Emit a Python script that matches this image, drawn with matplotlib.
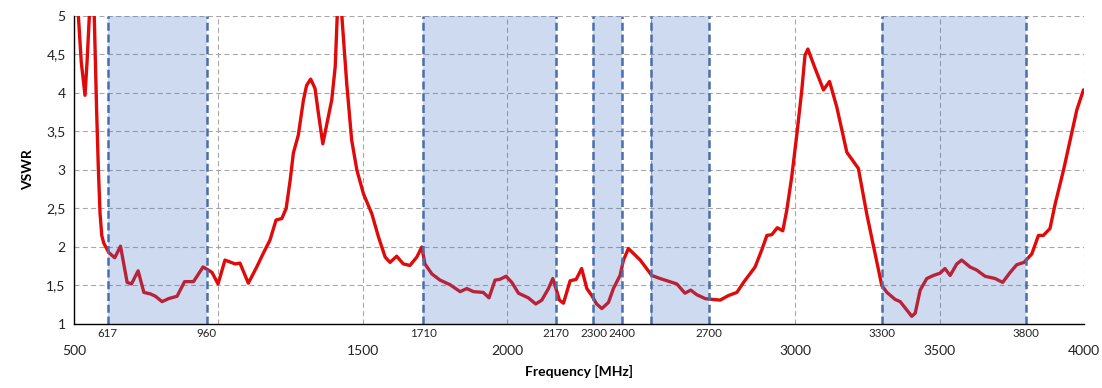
import matplotlib
matplotlib.use("Agg")
import matplotlib.pyplot as plt

# ---- data ----
freq_mhz = [500, 508, 515, 525, 538, 545, 553, 561, 570, 578, 584, 590, 596, 603,
            620, 641, 661, 684, 699, 722, 742, 765, 782, 805, 828, 857, 883, 914,
            947, 961, 978, 999, 1023, 1058, 1075, 1104, 1133, 1156, 1179, 1200,
            1220, 1235, 1249, 1260, 1277, 1295, 1306, 1320, 1335, 1347, 1362,
            1376, 1393, 1405, 1412, 1419, 1428, 1445, 1462, 1480, 1503, 1532,
            1555, 1578, 1595, 1618, 1641, 1664, 1688, 1705, 1716, 1740, 1768,
            1803, 1838, 1861, 1884, 1918, 1938, 1959, 1976, 1997, 2017, 2040,
            2074, 2100, 2121, 2144, 2159, 2170, 2182, 2196, 2219, 2240, 2259,
            2277, 2294, 2311, 2329, 2352, 2369, 2392, 2404, 2421, 2462, 2502,
            2531, 2589, 2617, 2637, 2658, 2687, 2710, 2739, 2768, 2797, 2820,
            2860, 2883, 2901, 2918, 2937, 2956, 2970, 2987, 3005, 3022, 3033,
            3043, 3068, 3097, 3118, 3143, 3178, 3218, 3247, 3299, 3317, 3345,
            3363, 3386, 3403, 3415, 3432, 3455, 3478, 3501, 3518, 3536, 3559,
            3576, 3605, 3628, 3657, 3692, 3718, 3744, 3767, 3792, 3819, 3842,
            3859, 3882, 3900, 3929, 3952, 3975, 3998]
vswr = [7.0, 6.0, 5.0, 4.4, 3.97, 4.4, 5.0, 6.0, 5.0, 3.8, 3.04, 2.44, 2.15, 2.05,
        1.93, 1.86, 2.01, 1.54, 1.52, 1.69, 1.41, 1.39, 1.36, 1.29, 1.33, 1.36,
        1.55, 1.55, 1.74, 1.71, 1.67, 1.52, 1.83, 1.78, 1.79, 1.53, 1.74, 1.92,
        2.09, 2.35, 2.37, 2.50, 2.87, 3.22, 3.45, 3.91, 4.10, 4.18, 4.06, 3.73,
        3.34, 3.60, 3.91, 4.34, 5.0, 5.4, 5.0, 4.12, 3.39, 3.0, 2.69, 2.43,
        2.13, 1.87, 1.80, 1.88, 1.78, 1.76, 1.87, 2.00, 1.78, 1.65, 1.57,
        1.51, 1.42, 1.46, 1.42, 1.41, 1.34, 1.57, 1.58, 1.62, 1.54, 1.40,
        1.34, 1.26, 1.31, 1.46, 1.59, 1.46, 1.31, 1.27, 1.56, 1.58, 1.72,
        1.46, 1.37, 1.26, 1.20, 1.28, 1.46, 1.63, 1.83, 1.98, 1.83, 1.63,
        1.59, 1.52, 1.40, 1.44, 1.38, 1.33, 1.32, 1.31, 1.37, 1.41, 1.54,
        1.74, 1.96, 2.15, 2.16, 2.25, 2.21, 2.48, 2.91, 3.47, 4.04, 4.49,
        4.57, 4.32, 4.04, 4.15, 3.82, 3.23, 3.02, 2.43, 1.50, 1.41, 1.32,
        1.29, 1.18, 1.10, 1.14, 1.44, 1.59, 1.63, 1.66, 1.72, 1.63, 1.78,
        1.83, 1.74, 1.70, 1.62, 1.59, 1.54, 1.67, 1.77, 1.80, 1.91, 2.15,
        2.15, 2.24, 2.56, 3.0, 3.39, 3.78, 4.04]

band_starts = [617, 1710, 2300, 2500, 3300]
band_ends = [960, 2170, 2400, 2700, 3800]
band_edge_labels = [617, 960, 1710, 2170, 2300, 2400, 2500, 2700, 3300, 3800]

x_grid_ticks = [500, 1000, 1500, 2000, 2500, 3000, 3500, 4000]
x_tick_labels = ["500", "", "1500", "2000", "", "3000", "3500", "4000"]
y_ticks = [1, 1.5, 2, 2.5, 3, 3.5, 4, 4.5, 5]
y_tick_labels = ["1", "1,5", "2", "2,5", "3", "3,5", "4", "4,5", "5"]

# ---- plot ----
plt.rcParams['font.family'] = ['Lato', 'DejaVu Sans']
fig = plt.figure(figsize=(11.02, 3.88), dpi=100)
ax = fig.add_axes([0.0672, 0.165, 0.9837 - 0.0672, 0.9588 - 0.165])

ax.set_xlim(500, 4000)
ax.set_ylim(1, 5)

ax.plot(freq_mhz, vswr, color='#E00A0A', lw=2.4, zorder=3,
        solid_joinstyle='round', solid_capstyle='round')

band_color = '#4472C4'
edge_color = '#4A6EA9'
for s, e in zip(band_starts, band_ends):
    ax.axvspan(s, e, color=band_color, alpha=0.26, lw=0, zorder=4)
    for v in (s, e):
        ax.axvline(v, color=edge_color, lw=1.8, ls=(0, (3.2, 1.5)), zorder=5)

ax.set_xticks(x_grid_ticks)
ax.set_xticklabels(x_tick_labels, fontsize=10)
ax.set_xticks(band_edge_labels, minor=True)
ax.set_xticklabels([str(v) for v in band_edge_labels], minor=True, fontsize=8.3)
ax.tick_params(axis='x', which='major', length=0, pad=15, colors='#222222')
ax.tick_params(axis='x', which='minor', length=0, pad=3, colors='#222222')

ax.set_yticks(y_ticks)
ax.set_yticklabels(y_tick_labels, fontsize=10)
ax.tick_params(axis='y', length=0, pad=6, colors='#222222')

ax.grid(True, which='major', color='#A6A6A6', lw=0.8, ls=(0, (4.5, 3)), zorder=1)
ax.grid(False, which='minor')
ax.set_axisbelow(True)

for sp in ('top', 'right'):
    ax.spines[sp].set_visible(False)
ax.spines['left'].set_color('black')
ax.spines['bottom'].set_color('black')
ax.spines['left'].set_linewidth(1.0)
ax.spines['bottom'].set_linewidth(1.0)
ax.spines['left'].set_zorder(6)
ax.spines['bottom'].set_zorder(6)

ax.set_xlabel('Frequency [MHz]', fontsize=10, fontweight='bold', labelpad=6)
ax.set_ylabel('VSWR', fontsize=10, fontweight='bold', labelpad=9)

fig.savefig('out.png', dpi=100)
